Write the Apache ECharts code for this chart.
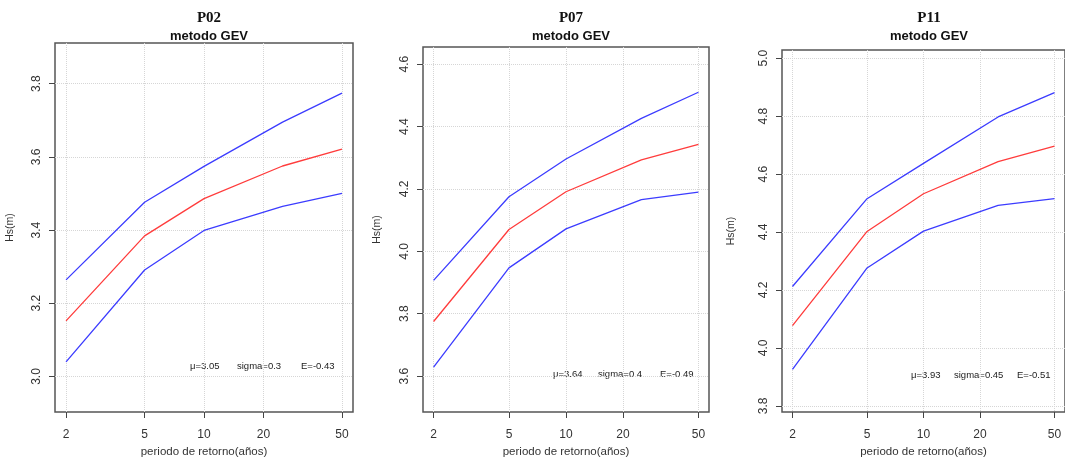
<!DOCTYPE html>
<html>
<head>
<meta charset="utf-8">
<script src="https://cdn.jsdelivr.net/npm/echarts@6/dist/echarts.min.js"></script>
<style>
html,body{margin:0;padding:0;background:#fff;}
#main{width:1065px;height:463px;}
</style>
</head>
<body>
<div id="main"></div>
<script>
// periodos de retorno (años)
var periods = [2, 5, 10, 25, 50];
var xTicks = [2, 5, 10, 20, 50];

var panelNames = ['P02', 'P07', 'P11'];

// Hs(m) - banda superior, ajuste GEV, banda inferior
var p02Upper = [3.264, 3.476, 3.574, 3.695, 3.774];
var p02Fit   = [3.152, 3.384, 3.486, 3.575, 3.621];
var p02Lower = [3.040, 3.291, 3.399, 3.465, 3.500];

var p07Upper = [3.907, 4.175, 4.296, 4.426, 4.510];
var p07Fit   = [3.775, 4.070, 4.191, 4.293, 4.343];
var p07Lower = [3.629, 3.947, 4.072, 4.166, 4.190];

var p11Upper = [4.212, 4.515, 4.637, 4.797, 4.881];
var p11Fit   = [4.077, 4.402, 4.532, 4.643, 4.696];
var p11Lower = [3.926, 4.276, 4.403, 4.492, 4.515];

var p02YTicks = [3.0, 3.2, 3.4, 3.6, 3.8];
var p07YTicks = [3.6, 3.8, 4.0, 4.2, 4.4, 4.6];
var p11YTicks = [3.8, 4.0, 4.2, 4.4, 4.6, 4.8, 5.0];

var p02YLim = [2.903, 3.911];
var p07YLim = [3.485, 4.655];
var p11YLim = [3.779, 5.028];

var p02Params = ['μ=3.05', 'sigma=0.3', 'E=-0.43'];
var p07Params = ['μ=3.64', 'sigma=0.4', 'E=-0.49'];
var p11Params = ['μ=3.93', 'sigma=0.45', 'E=-0.51'];

var panels = [
	{upper:p02Upper, fit:p02Fit, lower:p02Lower, yTicks:p02YTicks, yLim:p02YLim, params:p02Params,
	 grid:{left:55, top:43, width:298, height:375}, yNameGap:39, paramX:[190,237,301], paramY:367},
	{upper:p07Upper, fit:p07Fit, lower:p07Lower, yTicks:p07YTicks, yLim:p07YLim, params:p07Params,
	 grid:{left:423, top:47, width:286, height:374}, yNameGap:40, paramX:[553,598,660], paramY:375},
	{upper:p11Upper, fit:p11Fit, lower:p11Lower, yTicks:p11YTicks, yLim:p11YLim, params:p11Params,
	 grid:{left:782, top:50, width:284, height:370}, yNameGap:45, paramX:[911,954,1017], paramY:376}
];

var lg = function(v){ return Math.log10(v); };
var xPad = (lg(50) - lg(2)) * 0.04;

var toPoints = function(arr){
	return periods.map(function(t, i){ return [lg(t), arr[i]]; });
};

var grids = [], xAxes = [], yAxes = [], series = [], titles = [], graphics = [];
var tickColor = '#444';
var gridLine = {show:true, lineStyle:{color:'#d6d6d6', type:'dotted', width:1}};

panels.forEach(function(p, k){
	var g = p.grid;
	grids.push({left:g.left, top:g.top, width:g.width, height:g.height,
		show:true, borderColor:'#555', borderWidth:1.5, backgroundColor:'#fff'});
	var cx = g.left + g.width / 2;
	titles.push({text:panelNames[k], left:cx, top:6, textAlign:'center',
		textStyle:{fontFamily:'Liberation Serif', fontWeight:'bold', fontSize:15, color:'#111'}});
	titles.push({text:'metodo GEV', left:cx, top:25, textAlign:'center',
		textStyle:{fontFamily:'Liberation Sans', fontWeight:'bold', fontSize:13, color:'#111'}});

	xAxes.push({
		type:'value', gridIndex:k,
		min:lg(2) - xPad, max:lg(50) + xPad,
		name:'periodo de retorno(años)', nameLocation:'middle', nameGap:34,
		nameTextStyle:{fontFamily:'Liberation Sans', fontSize:11.5, color:'#333'},
		axisLine:{show:false},
		axisTick:{show:true, length:6, lineStyle:{color:tickColor}, customValues:xTicks.map(lg)},
		axisLabel:{customValues:xTicks.map(lg), margin:17,
			fontFamily:'Liberation Sans', fontSize:12, color:'#333',
			formatter:function(v){ return Math.round(Math.pow(10, v)); }},
		splitLine:gridLine
	});
	yAxes.push({
		type:'value', gridIndex:k,
		min:p.yLim[0], max:p.yLim[1],
		name:'Hs(m)', nameLocation:'middle', nameRotate:90, nameGap:p.yNameGap,
		nameTextStyle:{fontFamily:'Liberation Sans', fontSize:10.5, color:'#333'},
		axisLine:{show:false},
		axisTick:{show:true, length:6, lineStyle:{color:tickColor}, customValues:p.yTicks},
		axisLabel:{customValues:p.yTicks, rotate:90, margin:12,
			fontFamily:'Liberation Sans', fontSize:12, color:'#333',
			formatter:function(v){ return v.toFixed(1); }},
		splitLine:gridLine
	});

	var lines = [[p.upper, '#3c3cff'], [p.fit, '#ff3c3c'], [p.lower, '#3c3cff']];
	lines.forEach(function(l){
		series.push({type:'line', xAxisIndex:k, yAxisIndex:k, data:toPoints(l[0]),
			showSymbol:false, silent:true, animation:false,
			lineStyle:{color:l[1], width:1.3}});
	});

	p.params.forEach(function(txt, j){
		graphics.push({type:'text', left:p.paramX[j], top:p.paramY - 6,
			style:{text:txt, fontFamily:'Liberation Sans', fontSize:9.5, fill:'#222'}});
	});
});

var myChart = echarts.init(document.getElementById('main'));
var option = {
	backgroundColor:'#fff',
	animation:false,
	title:titles,
	grid:grids,
	xAxis:xAxes,
	yAxis:yAxes,
	series:series,
	graphic:graphics
};
myChart.setOption(option, true);
</script>
</body>
</html>
